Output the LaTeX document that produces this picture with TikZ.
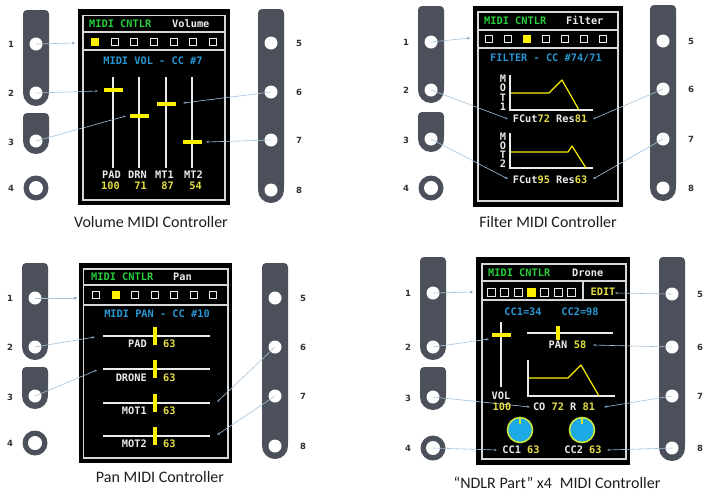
\documentclass[tikz,border=0pt]{standalone}
\usepackage{fontspec}
\setmainfont{Carlito}
\newfontfamily\scrfont{DejaVu Sans Mono}
\newfontfamily\numfont{DejaVu Sans}
\usetikzlibrary{arrows.meta}
\definecolor{hgreen}{RGB}{40,205,60}
\definecolor{hblue}{RGB}{40,150,210}
\definecolor{yel}{RGB}{230,222,70}
\definecolor{thumbcol}{RGB}{250,240,0}
\definecolor{wtxt}{RGB}{235,235,235}
\definecolor{bordercol}{RGB}{215,215,215}
\definecolor{platecol}{RGB}{75,80,90}
\definecolor{conncol}{RGB}{165,195,220}
\definecolor{tipcol}{RGB}{110,140,175}
\definecolor{knobblue}{RGB}{30,170,230}
\definecolor{knobring}{RGB}{205,230,60}
\definecolor{numcol}{RGB}{50,50,50}
\definecolor{captcol}{RGB}{30,30,30}
\tikzset{
  scrtxt/.style={font=\scrfont\bfseries\fontsize{10.3}{11}\selectfont, inner sep=0pt, text height=7.4pt, text depth=0pt},
  grn/.style={scrtxt, text=hgreen},
  blu/.style={scrtxt, text=hblue},
  ylw/.style={scrtxt, text=yel},
  wht/.style={scrtxt, text=wtxt},
  numlab/.style={font=\numfont\bfseries\fontsize{8.5}{9}\selectfont, text=numcol, inner sep=0pt},
  capt/.style={font=\fontsize{16}{19}\selectfont, text=captcol, inner sep=0pt},
  conn/.style={draw=conncol, line width=0.6pt, -{Stealth[length=3pt,width=2.6pt,color=tipcol]}},
  frame/.style={draw=bordercol, line width=1.1pt},
  sqbox/.style={draw=wtxt, line width=1pt, fill=black},
  wline/.style={draw=wtxt, line width=1.2pt},
  thumbh/.style={draw=thumbcol, line width=4pt},
  thumbv/.style={draw=thumbcol, line width=3.5pt},
  envline/.style={draw=thumbcol, line width=1.2pt, line join=round},
  knob/.style={fill=knobblue, draw=knobring, line width=1.6pt},
}
% left plates: prefix, cx, top, h1, h2, top3, h3, h4
\newcommand{\leftplates}[8]{%
  \fill[platecol, rounded corners=4pt] (#2-13,#3) rectangle (#2+13,#5);
  \fill[platecol] (#2-13,#5-6) rectangle (#2+13,#5);
  \fill[platecol] (#2,#5) circle (13);
  \fill[platecol, rounded corners=4pt] (#2-13,#6) rectangle (#2+13,#7);
  \fill[platecol] (#2-13,#7-6) rectangle (#2+13,#7);
  \fill[platecol] (#2,#7) circle (13);
  \fill[platecol] (#2,#8) circle (12.5);
  \coordinate (#1h1) at (#2,#4);
  \coordinate (#1h2) at (#2,#5);
  \coordinate (#1h3) at (#2,#7);
  \coordinate (#1h4) at (#2,#8);
  \fill[white] (#1h1) circle (6.5);
  \fill[white] (#1h2) circle (6.5);
  \fill[white] (#1h3) circle (6.5);
  \fill[white] (#1h4) circle (7);
  \node[numlab] (#1n1) at (#2-25,#4) {1};
  \node[numlab] (#1n2) at (#2-25,#5) {2};
  \node[numlab] (#1n3) at (#2-25,#7+1) {3};
  \node[numlab] (#1n4) at (#2-25,#8) {4};
}
% right plate: prefix, cx, top, h5, h6, h7, h8
\newcommand{\rightplate}[7]{%
  \fill[platecol, rounded corners=4pt] (#2-13,#3) rectangle (#2+13,#7);
  \fill[platecol] (#2-13,#7-6) rectangle (#2+13,#7);
  \fill[platecol] (#2,#7) circle (13);
  \coordinate (#1h5) at (#2,#4);
  \coordinate (#1h6) at (#2,#5);
  \coordinate (#1h7) at (#2,#6);
  \coordinate (#1h8) at (#2,#7);
  \fill[white] (#1h5) circle (6.5);
  \fill[white] (#1h6) circle (6.5);
  \fill[white] (#1h7) circle (6.5);
  \fill[white] (#1h8) circle (6.5);
  \node[numlab] (#1n5) at (#2+28,#4) {5};
  \node[numlab] (#1n6) at (#2+28,#5) {6};
  \node[numlab] (#1n7) at (#2+28,#6) {7};
  \node[numlab] (#1n8) at (#2+28,#7) {8};
}
\begin{document}
\begin{tikzpicture}[x=1pt,y=-1pt]
\useasboundingbox (0,0) rectangle (711,496);
\fill[white] (0,0) rectangle (711,496);

%%%%%%%%%%%%%%%% Panel 1: Volume
\leftplates{pa}{36}{10}{44}{93}{113}{141}{188}
\rightplate{pa}{271}{9}{43}{92}{140}{190}
\fill[black] (78,9) rectangle (230,205);
\draw[frame] (83,15.5) rectangle (225,200);
\draw[frame] (83,32) -- (225,32);
\draw[frame] (83,50) -- (225,50);
\node[grn,anchor=west] (pahdr) at (89,24) {MIDI CNTLR};
\node[wht,anchor=west] (pamode) at (172,24) {Volume};
\foreach \i in {0,...,6} {\draw[sqbox] ({95+19.67*\i-3.5},38.5) rectangle ++(7,7);}
\fill[thumbcol] (91,38) rectangle (99,46);
\node[blu] (patitle) at (153,61) {MIDI VOL - CC \#7};
\foreach \x in {113,139,166,192} {\draw[wline] (\x,77) -- (\x,168);}
\draw[thumbh] (104,90) -- (123,90);
\draw[thumbh] (130,116) -- (149,116);
\draw[thumbh] (157,104) -- (176,104);
\draw[thumbh] (183,142) -- (202,142);
\node[wht,anchor=east] (paL1) at (121,175) {PAD};
\node[wht,anchor=east] (paL2) at (147,175) {DRN};
\node[wht,anchor=east] (paL3) at (174,175) {MT1};
\node[wht,anchor=east] (paL4) at (203,175) {MT2};
\node[ylw,anchor=east] (paV1) at (120,186) {100};
\node[ylw,anchor=east] (paV2) at (147,186) {71};
\node[ylw,anchor=east] (paV3) at (174,186) {87};
\node[ylw,anchor=east] (paV4) at (202,186) {54};
\coordinate (pat1) at (75,43);
\coordinate (pat2) at (98,91);
\coordinate (pat3) at (126,116);
\coordinate (pat6) at (183,103);
\coordinate (pat7) at (206,142);
\draw[conn] (pah1) -- (pat1);
\draw[conn] (pah2) -- (pat2);
\draw[conn] (pah3) -- (pat3);
\draw[conn] (pah6) -- (pat6);
\draw[conn] (pah7) -- (pat7);
\node[capt] (pacap) at (151,222) {Volume MIDI Controller};

%%%%%%%%%%%%%%%% Panel 2: Filter
\leftplates{pb}{431}{6}{42}{90}{112}{139}{188}
\rightplate{pb}{663}{5}{41}{89}{139}{188}
\fill[black] (473,6) rectangle (623,207);
\draw[frame] (478,12) rectangle (618,201);
\draw[frame] (478,30) -- (618,30);
\draw[frame] (478,48) -- (618,48);
\node[grn,anchor=west] (pbhdr) at (484,21) {MIDI CNTLR};
\node[wht,anchor=west] (pbmode) at (566,21) {Filter};
\foreach \i in {0,...,6} {\draw[sqbox] ({489+19*\i-3.5},35) rectangle ++(7,7);}
\fill[thumbcol] (523,34.5) rectangle (531,42.5);
\node[blu] (pbtitle) at (546,58) {FILTER - CC \#74/71};
\node[wht] (pbm1) at (503,79) {M};
\node[wht] (pbm2) at (503,88) {O};
\node[wht] (pbm3) at (503,98) {T};
\node[wht] (pbm4) at (503,107) {1};
\draw[wline] (510,75) -- (510,110) -- (593,110);
\draw[envline] (511,93) -- (549,93) -- (562,80) -- (579,110);
\node[wht] (pbf1) at (550,119) {FCut\textcolor{yel}{72} Res\textcolor{yel}{81}};
\node[wht] (pbn1) at (503,137) {M};
\node[wht] (pbn2) at (503,146) {O};
\node[wht] (pbn3) at (503,155) {T};
\node[wht] (pbn4) at (503,164) {2};
\draw[wline] (510,133) -- (510,168) -- (593,168);
\draw[envline] (511,152) -- (568,152) -- (572,146) -- (586,168);
\node[wht] (pbf2) at (550,180) {FCut\textcolor{yel}{95} Res\textcolor{yel}{63}};
\coordinate (pbt1) at (470,38);
\coordinate (pbt2) at (508,119);
\coordinate (pbt3) at (508,179);
\coordinate (pbt6) at (593,119);
\coordinate (pbt7) at (593,179);
\draw[conn] (pbh1) -- (pbt1);
\draw[conn] (pbh2) -- (pbt2);
\draw[conn] (pbh3) -- (pbt3);
\draw[conn] (pbh6) -- (pbt6);
\draw[conn] (pbh7) -- (pbt7);
\node[capt] (pbcap) at (548,222) {Filter MIDI Controller};

%%%%%%%%%%%%%%%% Panel 3: Pan
\leftplates{pc}{35}{263}{298}{347}{367}{396}{443}
\rightplate{pc}{275}{263}{298}{347}{396}{446}
\fill[black] (79,263) rectangle (232,463);
\draw[frame] (83.5,269) rectangle (228,458);
\draw[frame] (83.5,285) -- (228,285);
\draw[frame] (83.5,305) -- (228,305);
\node[grn,anchor=west] (pchdr) at (91,277) {MIDI CNTLR};
\node[wht,anchor=west] (pcmode) at (173,277) {Pan};
\foreach \i in {0,...,6} {\draw[sqbox] ({96+19.5*\i-3.5},291.5) rectangle ++(7,7);}
\fill[thumbcol] (111.5,291) rectangle (119.5,299);
\node[blu] (pctitle) at (157,314) {MIDI PAN - CC \#10};
\foreach \y in {336,369,403,436} {\draw[wline] (103,\y) -- (210,\y); \draw[thumbv] (155,\y-9) -- (155,\y+9);}
\node[wht,anchor=east] (pcL1) at (147,344) {PAD};
\node[wht,anchor=east] (pcL2) at (147,378) {DRONE};
\node[wht,anchor=east] (pcL3) at (147,411) {MOT1};
\node[wht,anchor=east] (pcL4) at (147,444) {MOT2};
\node[ylw,anchor=west] (pcV1) at (163,344) {63};
\node[ylw,anchor=west] (pcV2) at (163,378) {63};
\node[ylw,anchor=west] (pcV3) at (163,411) {63};
\node[ylw,anchor=west] (pcV4) at (163,444) {63};
\coordinate (pct1) at (77,298);
\coordinate (pct2) at (95,337);
\coordinate (pct3) at (97,370);
\coordinate (pct6) at (217,402);
\coordinate (pct7) at (217,435);
\draw[conn] (pch1) -- (pct1);
\draw[conn] (pch2) -- (pct2);
\draw[conn] (pch3) -- (pct3);
\draw[conn] (pch6) -- (pct6);
\draw[conn] (pch7) -- (pct7);
\node[capt] (pccap) at (160,477) {Pan MIDI Controller};

%%%%%%%%%%%%%%%% Panel 4: Drone
\leftplates{pd}{433}{257}{293}{347}{367}{397}{448}
\rightplate{pd}{672}{257}{294}{347}{396}{448}
\fill[black] (476,257) rectangle (630,465);
\draw[frame] (482,264) rectangle (626,459);
\draw[frame] (482,281) -- (626,281);
\draw[frame] (482,300) -- (626,300);
\draw[frame] (583,281) -- (583,300);
\node[grn,anchor=west] (pdhdr) at (488,273) {MIDI CNTLR};
\node[wht,anchor=west] (pdmode) at (572,273) {Drone};
\foreach \i in {0,...,6} {\draw[sqbox] ({491.5+13.3*\i-4},288) rectangle ++(8,8);}
\fill[thumbcol] (527,287.5) rectangle (536,296.5);
\node[ylw] (pdedit) at (603,292) {EDIT};
\node[blu] (pdcc1) at (523,312) {CC1=34};
\node[blu] (pdcc2) at (580,312) {CC2=98};
\draw[wline] (501,322) -- (501,387);
\draw[thumbh] (492,335) -- (511,335);
\draw[wline] (527,333) -- (613,333);
\draw[thumbv] (558,326) -- (558,340);
\node[wht] (pdpan) at (558,345) {PAN};
\node[ylw] (pdpanv) at (580,345) {58};
\draw[wline] (528,360) -- (528,396) -- (615,396);
\draw[envline] (529,378) -- (568,378) -- (581,365) -- (599,396);
\coordinate (pdt1) at (473,292);
\coordinate (pdt2) at (489,339);
\coordinate (pdt3) at (530,407);
\coordinate (pdt4) at (497,450);
\coordinate (pdt5) at (615,293);
\coordinate (pdt6) at (593,345);
\coordinate (pdt7) at (604,407);
\coordinate (pdt8) at (607,450);
\draw[conn] (pdh1) -- (pdt1);
\draw[conn] (pdh2) -- (pdt2);
\draw[conn] (pdh3) -- (pdt3);
\draw[conn] (pdh4) -- (pdt4);
\draw[conn] (pdh5) -- (pdt5);
\draw[conn] (pdh6) -- (pdt6);
\draw[conn] (pdh7) -- (pdt7);
\draw[conn] (pdh8) -- (pdt8);
\node[wht] (pdvol) at (501,396) {VOL};
\node[ylw] (pdvolv) at (502,407) {100};
\node[wht] (pdco) at (564,407) {CO \textcolor{yel}{72} R \textcolor{yel}{81}};
\draw[knob] (520,430) circle (12.5);
\draw[knob] (582,430) circle (12.5);
\draw[draw=knobring, line width=1.6pt] (520,417.5) -- (520,423.5);
\draw[draw=knobring, line width=1.6pt] (582,417.5) -- (582,423.5);
\node[wht] (pdk1) at (521,450) {CC1 \textcolor{yel}{63}};
\node[wht] (pdk2) at (583,450) {CC2 \textcolor{yel}{63}};
\node[capt] (pdcap) at (557,483) {“NDLR Part” x4\enspace MIDI Controller};
\end{tikzpicture}
\end{document}
